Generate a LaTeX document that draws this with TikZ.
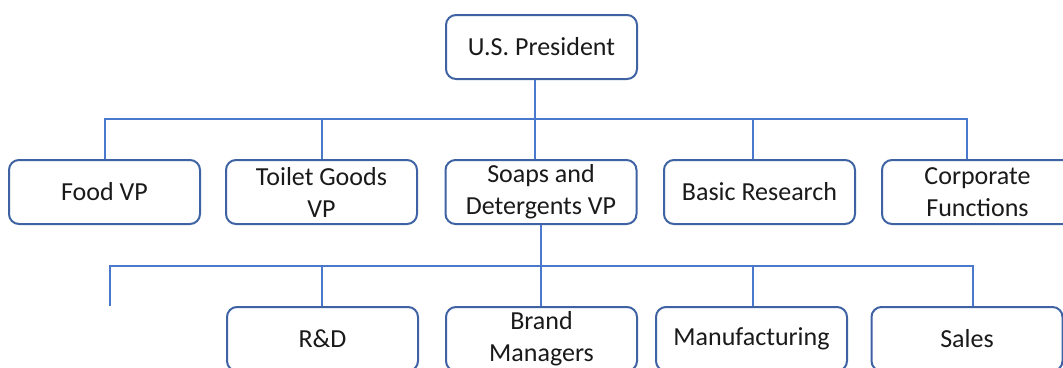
\documentclass[tikz,border=0pt]{standalone}
\usepackage{fontspec}
\setmainfont{Carlito}
\begin{document}
\begin{tikzpicture}[x=1pt,y=-1pt,
  orgbox/.style={draw=boxblue, line width=2pt, rounded corners=10pt, fill=white,
    minimum width=191pt, minimum height=64pt, inner sep=0pt, align=center,
    text=txtgray, font=\fontsize{26}{32}\selectfont},
  conn/.style={draw=lineblue, line width=2pt}]
\definecolor{boxblue}{HTML}{3F62A3}
\definecolor{lineblue}{HTML}{4A78CC}
\definecolor{txtgray}{HTML}{1A1A1A}
\useasboundingbox (0,0) rectangle (1063,367);
\clip (0,0) rectangle (1063,367);
% level 0
\node[orgbox] (pres) at (541.5,47) {U.S. President};
% level 1
\node[orgbox] (food) at (104.5,192) {Food VP};
\node[orgbox] (toil) at (321.5,192) {Toilet Goods\\VP};
\node[orgbox] (soap) at (541,192) {Soaps and\\Detergents VP};
\node[orgbox] (basic) at (759.5,192) {Basic Research};
\node[orgbox] (corp) at (977.5,192) {Corporate\\Functions};
% level 2
\node[orgbox] (rd) at (322.5,339) {R\&D};
\node[orgbox] (brand) at (541.5,339) {Brand\\Managers};
\node[orgbox] (manu) at (751.5,339) {Manufacturing};
\node[orgbox] (sales) at (967,339) {Sales};
% bus coordinates
\coordinate (b1L) at (105,119);
\coordinate (b1R) at (967,119);
\coordinate (x1) at (535,0);
\coordinate (x2) at (322,0);
\coordinate (x3) at (753,0);
\coordinate (b2L) at (110,266);
\coordinate (b2R) at (973,266);
\coordinate (b2E) at (110,306);
\coordinate (y2) at (541,0);
% level-1 connectors
\draw[conn] (food.north -| b1L) -- (b1L) -- (b1R) -- (corp.north -| b1R);
\draw[conn] (pres.south -| x1) -- (soap.north -| x1);
\draw[conn] (b1L -| x2) -- (toil.north -| x2);
\draw[conn] (b1L -| x3) -- (basic.north -| x3);
% level-2 connectors
\draw[conn] (b2E) -- (b2L) -- (b2R) -- (sales.north -| b2R);
\draw[conn] (soap.south -| y2) -- (brand.north -| y2);
\draw[conn] (b2L -| x2) -- (rd.north -| x2);
\draw[conn] (b2L -| x3) -- (manu.north -| x3);
\end{tikzpicture}
\end{document}
